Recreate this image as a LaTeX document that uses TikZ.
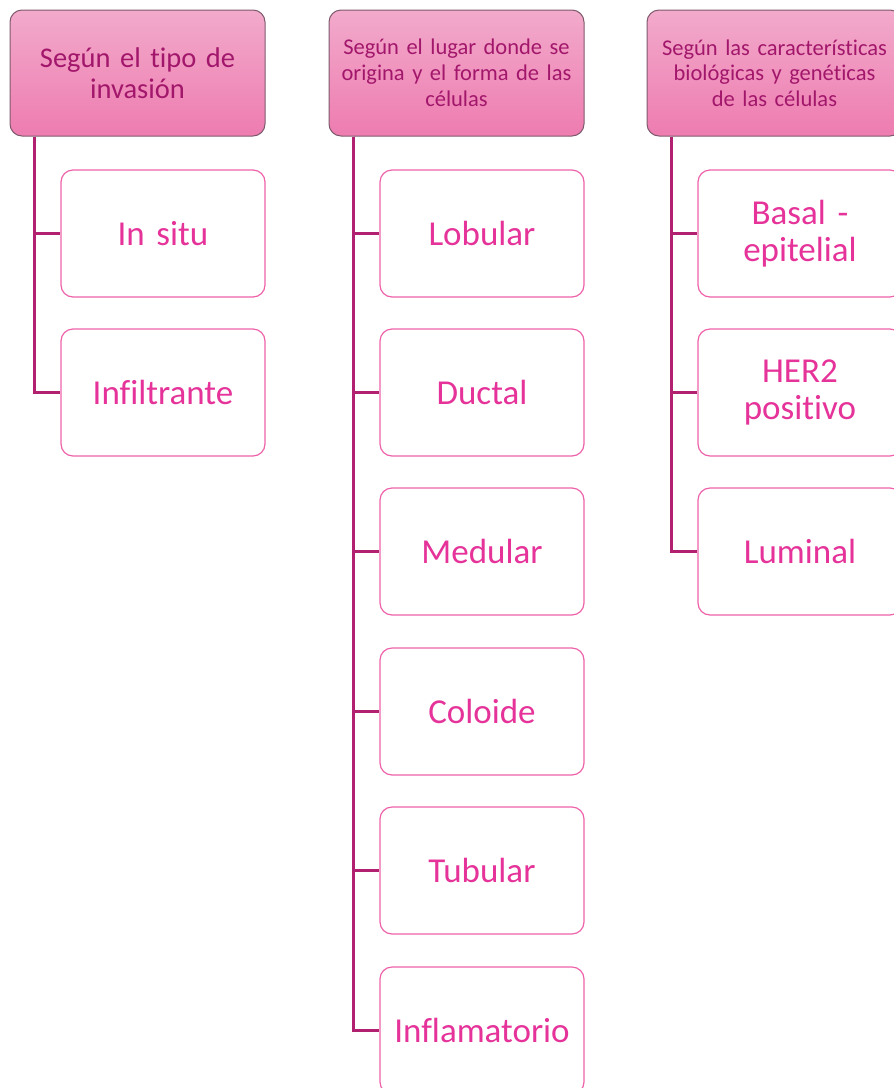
\documentclass[tikz,border=0pt]{standalone}
\usepackage{fontspec}
\setmainfont[WordSpace=0.6, Ligatures=NoCommon, Contextuals=NoAlternate]{Carlito}
\usetikzlibrary{calc}

\definecolor{headtop}{HTML}{F2AACB}
\definecolor{headbot}{HTML}{EE7CB0}
\definecolor{headline}{HTML}{7D5A6C}
\definecolor{headtext}{HTML}{A2176B}
\definecolor{kidline}{HTML}{EE62AA}
\definecolor{kidtext}{HTML}{E5339A}
\definecolor{connline}{HTML}{B2216F}

\tikzset{
	headbox/.style={draw=headline, line width=1pt, rounded corners=12pt, top color=headtop, bottom color=headbot,
		minimum width=255pt, minimum height=126pt, text width=250pt, align=center, text=headtext, inner sep=0pt},
	kidbox/.style={draw=kidline, line width=1.2pt, rounded corners=12pt, fill=white,
		minimum width=204pt, minimum height=127pt, text width=200pt, align=center, text=kidtext, inner sep=0pt,
		font=\fontsize{35}{37}\selectfont},
	conn/.style={draw=connline, line width=2.6pt}
}

\begin{document}
\begin{tikzpicture}[x=1pt,y=-1pt]

\clip (0,0) rectangle (894,1088);

% headers
\node[headbox, font=\fontsize{28.5}{31}\selectfont] (tipo) at (137.5,73) {Según el tipo de\\invasión};
\node[headbox, font=\fontsize{22.5}{26}\selectfont] (lugar) at (456.5,73) {Según el lugar donde se\\origina y el forma de las\\células};
\node[headbox, font=\fontsize{22.5}{25.5}\selectfont] (carac) at (774.5,73) {Según las características\\biológicas y genéticas\\de las células};

% first column
\foreach \n/\txt/\y in {insitu/In situ/233.5, infil/Infiltrante/392.5} {
	\node[kidbox] (\n) at (163,\y) {\txt};
	\draw[conn] ($(tipo.south west)+(25,0)$) |- (\n.west);
}

% second column
\foreach \n/\txt/\y in {lob/Lobular/233.5, duct/Ductal/392.5, med/Medular/551.5, col/Coloide/711.5, tub/Tubular/870.5, infl/Inflamatorio/1030.5} {
	\node[kidbox] (\n) at (482,\y) {\txt};
	\draw[conn] ($(lugar.south west)+(25,0)$) |- (\n.west);
}

% third column
\foreach \n/\txt/\y in {basal/{Basal -\\epitelial}/233.5, her/{HER2\\positivo}/392.5, lum/Luminal/551.5} {
	\node[kidbox] (\n) at (800,\y) {\txt};
	\draw[conn] ($(carac.south west)+(25,0)$) |- (\n.west);
}

\end{tikzpicture}
\end{document}
